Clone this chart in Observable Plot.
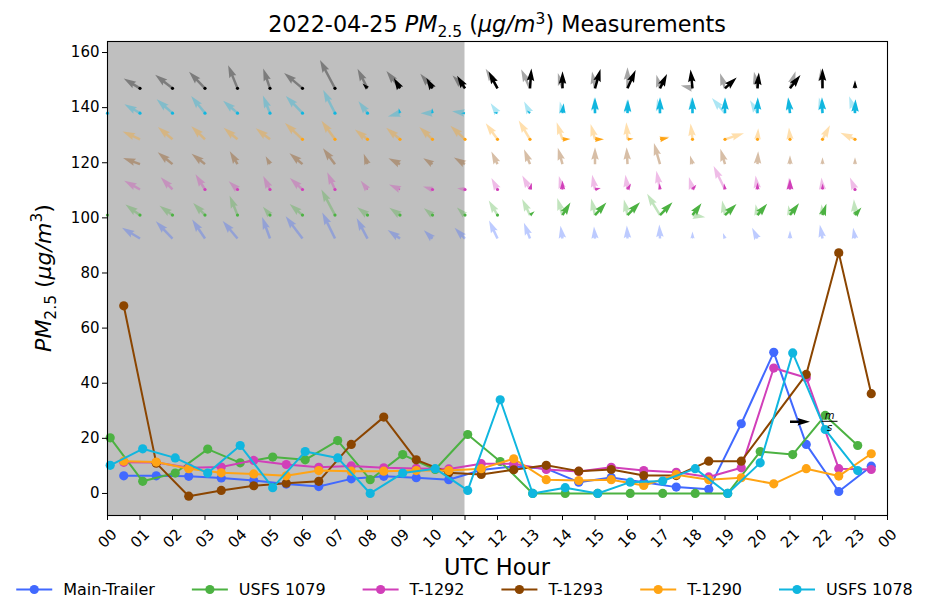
<!DOCTYPE html>
<html>
<head>
<meta charset="utf-8">
<script src="https://cdn.jsdelivr.net/npm/d3@7"></script>
<script src="https://cdn.jsdelivr.net/npm/@observablehq/plot@0.6"></script>
<style>
  body { margin: 0; background: #fff; }
  #chart svg { display: block; }
</style>
</head>
<body>
<div id="chart"></div>
<script>
// ---------------- data ----------------
const stations = ["Main-Trailer", "USFS 1079", "T-1292", "T-1293", "T-1290", "USFS 1078"];
const stationColors = ["#4169ff", "#4cb242", "#d13fb9", "#8b4500", "#ffa414", "#10b6df"];
const stationMinute = [30, 5, 30, 30, 30, 5];   // minute of the hour each station reports at
const hours = [0,1,2,3,4,5,6,7,8,9,10,11,12,13,14,15,16,17,18,19,20,21,22,23];

// PM2.5 (ug/m3), hourly
const mainTrailer = [6.4,6.4,6.2,5.6,4.7,3.4,2.5,5.3,6.2,5.7,5.0,8.5,9.8,9.0,4.1,5.8,4.1,2.3,1.5,25.3,51.2,17.8,0.7,9.9];
const usfs1079    = [20.2,4.4,7.4,16.1,11.1,13.2,12.2,19.2,5.0,14.1,8.7,21.4,11.6,0,0,0,0,0,0,0,15.2,14.1,28.3,17.4];
const t1292       = [11.3,11.2,9.3,9.6,12.0,10.5,9.5,10.0,9.3,9.1,8.9,10.8,10.8,8.7,8.0,9.5,8.3,7.7,6.0,9.3,45.5,42.0,9.0,8.7];
const t1293       = [68.1,11.0,-1.0,1.1,2.8,3.7,4.4,17.8,27.7,12.2,7.5,6.9,8.6,10.2,8.1,8.7,6.5,6.5,11.7,11.7,null,43.2,87.3,36.2];
const t1290       = [11.7,11.4,9.0,7.5,7.1,6.4,8.3,8.1,8.1,8.3,8.3,9.0,12.6,5.0,4.7,5.0,2.9,6.8,5.0,5.7,3.5,9.0,6.3,14.4];
const usfs1078    = [10.2,16.2,12.9,7.4,17.4,2.1,15.2,12.9,0,7.4,9.0,1.1,34.0,0,2.1,0,4.1,4.5,9.0,0,11.1,51.0,23.2,8.3];
const seriesValues = [mainTrailer, usfs1079, t1292, t1293, t1290, usfs1078];

// shaded (night) period, UTC hours
const shadeStart = 0;
const shadeEnd = 11;

// wind arrows: direction the arrow points (deg clockwise from north) and speed (m/s)
const arrowRows = ["Met", "USFS 1078", "T-1290", "T-1293", "T-1292", "USFS 1079", "Main-Trailer"];
const arrowRowLevels = [147, 138, 128.5, 119.5, 110.3, 101, 92.5];

const metLightDir = [null,-59,-52,-44,-22,-19,-50,-28,-27,-38,-40,-44,-31,-25,-17,-10,0,-15,-76,-18,-12,18,-5,0];
const metLightSpd = [null,1.9,2.2,2.3,2.5,2.1,2.4,3.2,2.2,2.2,1.9,1.8,2.3,2.1,1.6,1.7,2.1,1.4,1.2,1.6,1.7,1.8,2.0,0.6];
const metDarkDir  = [null,0,0,0,0,0,0,0,-45,-31,-31,-32,-28,4,0,16,24,26,-6,47,5,38,0,0];
const metDarkSpd  = [null,0,0,0,0,0,0,0,0.7,1.2,1.2,1.5,1.9,2.0,1.7,2.0,2.0,1.6,1.9,1.6,1.6,1.7,2.0,0.8];

const usfs1078LightDir = [null,-60,-49,-39,-49,-22,-44,-27,-37,-105,-90,-82,-35,-27,-13,-4,-4,-11,-5,-41,-30,-5,-13,-19];
const usfs1078LightSpd = [null,1.8,2.1,2.2,1.9,1.9,2.4,2.6,1.5,1.25,1.2,1.3,1.2,1.3,1.2,1.5,1.3,1.5,1.6,2.0,1.5,1.5,1.6,1.8];
const usfs1078DarkDir  = [0,0,0,0,0,0,0,0,0,-15,-5,-90,-82,-50,7,0,2,0,0,0,1,-7,-2,2];
const usfs1078DarkSpd  = [0,0,0,0,0,0,0,0,0,0.5,0.5,0.4,0.4,0.4,1.0,1.6,1.4,1.6,1.6,1.6,1.6,1.6,1.6,1.4];

const t1290LightDir = [null,-66,-50,-46,-50,-52,-47,-36,-52,-50,-47,-47,-36,-31,-19,-16,-4,75,-7,72,4,-5,28,-66];
const t1290LightSpd = [null,1.9,1.9,1.9,1.8,1.8,2.4,2.3,1.6,1.8,1.8,2.0,2.0,2.2,1.8,1.6,1.7,1.0,1.6,2.0,1.1,1.2,1.6,1.6];
const t1290DarkDir  = [null,null,null,null,null,null,0,0,0,0,0,0,0,0,88,90,85,80,0,0,0,0,0,0];
const t1290DarkSpd  = [null,null,null,null,null,null,0,0,0,0,0,0,0,0,0.8,0.9,0.6,0.9,0,0,0,0,0,0];

const t1293LightDir = [null,-70,-51,-52,-31,-29,-50,-37,-20,-63,-57,-59,-26,-22,-16,0,-3,-16,-16,-17,3,0,0,0];
const t1293LightSpd = [null,1.8,1.9,1.7,1.5,0.9,1.7,2.0,1.1,1.3,1.1,1.3,1.4,1.6,1.7,1.7,1.7,2.2,0.9,1.6,1.3,0.9,0.7,0.7];
const t1293DarkDir  = [];
const t1293DarkSpd  = [];

const t1292LightDir = [null,-61,-44,-32,-47,-27,-48,-24,-38,-66,-72,-81,-28,-29,-15,-11,-8,-11,-16,-26,-8,-5,-5,-23];
const t1292LightSpd = [null,1.8,1.7,1.8,1.2,1.5,1.7,1.9,1.1,1.2,1.0,0.8,1.3,1.6,1.4,1.5,1.5,1.9,1.3,2.6,1.4,1.2,1.2,1.3];
const t1292DarkDir  = [null,null,null,0,0,0,0,0,-30,-60,0,0,0,15,0,75,30,-5,39,-9,0,0,2,0];
const t1292DarkSpd  = [null,null,null,0,0,0,0,0,0.15,0.15,0,0,0,0.7,0.9,0.6,0.7,0.6,0.6,0.6,0.7,1.1,0.6,0];

const usfs1079LightDir = [null,-54,-54,-44,-22,-40,-49,-28,-53,-55,-51,-47,-31,-26,-17,-13,-13,-31,100,-11,-10,-10,-5,-4];
const usfs1079LightSpd = [null,1.8,1.6,1.7,2.1,1.1,1.7,2.9,1.3,1.3,1.1,1.1,1.7,1.8,1.8,1.7,1.6,2.5,1.3,1.5,1.1,1.0,1.1,1.6];
const usfs1079DarkDir  = [0,0,0,0,0,0,0,0,0,0,0,0,0,51,32,42,44,44,37,46,40,37,19,40];
const usfs1079DarkSpd  = [0,0,0,0,0,0,0,0,0,0,0,0,0,0.6,1.5,1.7,1.8,1.8,1.5,1.6,1.5,1.5,1.2,1.0];

const mainLightDir = [null,-59,-44,-34,-40,-20,-37,-26,-28,-55,-46,-44,-25,-21,-9,-5,-3,-3,0,-20,-27,0,-11,-10];
const mainLightSpd = [null,2.1,2.4,2.3,2.3,2.3,2.8,2.9,2.3,1.5,1.2,1.5,2.0,1.7,1.3,1.2,1.3,1.4,0.7,0.6,1.2,0.8,1.4,1.1];
const mainDarkDir  = [];
const mainDarkSpd  = [];

const quiverKeySpeed = 2; // m/s

// axes
const yTicks = [0,20,40,60,80,100,120,140,160];
const xTickHours = [0,1,2,3,4,5,6,7,8,9,10,11,12,13,14,15,16,17,18,19,20,21,22,23,24];
const xTickLabels = ["00","01","02","03","04","05","06","07","08","09","10","11","12","13","14","15","16","17","18","19","20","21","22","23","00"];

// ---------------- build records ----------------
const lightDirs = [metLightDir, usfs1078LightDir, t1290LightDir, t1293LightDir, t1292LightDir, usfs1079LightDir, mainLightDir];
const lightSpds = [metLightSpd, usfs1078LightSpd, t1290LightSpd, t1293LightSpd, t1292LightSpd, usfs1079LightSpd, mainLightSpd];
const darkDirs  = [metDarkDir, usfs1078DarkDir, t1290DarkDir, t1293DarkDir, t1292DarkDir, usfs1079DarkDir, mainDarkDir];
const darkSpds  = [metDarkSpd, usfs1078DarkSpd, t1290DarkSpd, t1293DarkSpd, t1292DarkSpd, usfs1079DarkSpd, mainDarkSpd];

function arrowRecords(dirs, spds) {
  const out = [];
  arrowRows.forEach((row, r) => {
    hours.forEach((h, i) => {
      const d = dirs[r][i], s = spds[r][i];
      if (d != null && s != null) out.push({hour: h, level: arrowRowLevels[r], dir: d, spd: s, row});
    });
  });
  return out;
}
const lightArrows = arrowRecords(lightDirs, lightSpds);
const darkArrows = arrowRecords(darkDirs, darkSpds);

const seriesRecords = stations.map((name, s) =>
  hours.map((h, i) => ({station: name, time: h + stationMinute[s] / 60, pm: seriesValues[s][i]}))
       .filter(d => d.pm != null));

// matplotlib-like quiver arrow (filled), tail at origin pointing up
const quiverShape = {
  draw(ctx, l) {
    const w = 2.5;
    if (!(l >= 0.6)) { ctx.moveTo(1.6, 0); ctx.arc(0, 0, 1.6, 0, 2 * Math.PI); return; }
    const hl0 = 5 * w;
    const k = l < hl0 ? l / hl0 : 1;
    const sw = w * k, hw = 3 * w * k, HL = 5 * w * k, HAL = 4.5 * w * k;
    ctx.moveTo(-sw / 2, 0);
    ctx.lineTo(-sw / 2, -(l - HAL));
    ctx.lineTo(-hw / 2, -(l - HL));
    ctx.lineTo(0, -l);
    ctx.lineTo(hw / 2, -(l - HL));
    ctx.lineTo(sw / 2, -(l - HAL));
    ctx.lineTo(sw / 2, 0);
    ctx.closePath();
  }
};

// ---------------- marks ----------------
const marks = [
  Plot.rect([{start: shadeStart, end: shadeEnd}], {x1: "start", x2: "end", fill: "#bfbfbf"}),
  Plot.vector(lightArrows, {x: "hour", y: "level", rotate: "dir", length: "spd", anchor: "start",
    shape: quiverShape, fill: "row", fillOpacity: 0.35, stroke: "none"}),
  Plot.vector(darkArrows, {x: "hour", y: "level", rotate: "dir", length: "spd", anchor: "start",
    shape: quiverShape, fill: "row", stroke: "none"})
];
stations.forEach((name, s) => {
  marks.push(Plot.line(seriesRecords[s], {x: "time", y: "pm", stroke: stationColors[s], strokeWidth: 2}));
  marks.push(Plot.dot(seriesRecords[s], {x: "time", y: "pm", fill: stationColors[s], r: 4.6}));
});
const keyAt = [{hour: 21.0, value: 26, spd: quiverKeySpeed}];
marks.push(Plot.vector(keyAt, {x: "hour", y: "value", rotate: 90, length: "spd", anchor: "start",
  shape: quiverShape, fill: "#000", stroke: "none"}));
marks.push(Plot.frame({stroke: "#000", strokeWidth: 1.1}));
marks.push(Plot.axisY({ticks: yTicks, tickSize: 5, tickPadding: 3, label: null, fontSize: 15}));
marks.push(Plot.axisX({ticks: xTickHours, tickSize: 5, tickFormat: () => "", label: null}));
marks.push(Plot.text(xTickHours, {x: d => d, text: (d, i) => xTickLabels[i], frameAnchor: "bottom",
  dy: 23, rotate: -45, textAnchor: "middle", lineAnchor: "middle", fontSize: 15, fill: "#000"}));

const chart = Plot.plot({
  width: 929, height: 614,
  marginTop: 41, marginRight: 42, marginBottom: 99, marginLeft: 107,
  x: {domain: [0, 24]},
  y: {domain: [-8, 164]},
  length: {domain: [0, 1], range: [0, 10]},
  color: {domain: [...stations, "Met"], range: [...stationColors, "#000000"]},
  style: {fontFamily: "DejaVu Sans", fontSize: "15px", color: "#000", background: "#fff", overflow: "visible"},
  marks
});
document.getElementById("chart").appendChild(chart);

// ---------------- text annotations ----------------
const svg = d3.select(chart);
function richText(parent, segs, attrs) {
  const t = parent.append("text");
  for (const [k, v] of Object.entries(attrs)) t.attr(k, v);
  let shift = 0;
  for (const s of segs) {
    const ts = t.append("tspan").text(s.t);
    if (s.i) ts.attr("font-style", "italic");
    if (s.fs) ts.attr("font-size", s.fs);
    const target = s.dy || 0;
    if (target !== shift) { ts.attr("dy", target - shift); shift = target; }
  }
  return t;
}
const fam = "DejaVu Sans";
richText(svg, [
  {t: "2022-04-25 "}, {t: "PM", i: true}, {t: "2.5", dy: 4.5, fs: 15.5},
  {t: " ("}, {t: "μg/m", i: true}, {t: "3", dy: -8.5, fs: 15.5}, {t: ") Measurements"}
], {x: 497, y: 32, "text-anchor": "middle", "font-family": fam, "font-size": 22.3, fill: "#000"});

richText(svg, [
  {t: "PM", i: true}, {t: "2.5", dy: 4.5, fs: 15.5},
  {t: " ("}, {t: "μg/m", i: true}, {t: "3", dy: -9, fs: 15.5}, {t: ")"}
], {transform: "translate(51,278) rotate(-90)", "text-anchor": "middle", "font-family": fam, "font-size": 22, fill: "#000"});

svg.append("text").text("UTC Hour").attr("x", 497).attr("y", 575).attr("text-anchor", "middle")
  .attr("font-family", fam).attr("font-size", 22.5).attr("fill", "#000");

// quiver key label (m over s)
const sx = chart.scale("x"), sy = chart.scale("y");
const kx = sx.apply(keyAt[0].hour) + 40, ky = sy.apply(keyAt[0].value);
const keyG = svg.append("g").attr("font-family", fam).attr("font-style", "italic").attr("font-size", 10).attr("fill", "#000");
keyG.append("text").text("m").attr("x", kx).attr("y", ky - 2.5).attr("text-anchor", "middle");
keyG.append("line").attr("x1", kx - 8).attr("x2", kx + 8).attr("y1", ky).attr("y2", ky).attr("stroke", "#000").attr("stroke-width", 1);
keyG.append("text").text("s").attr("x", kx).attr("y", ky + 9.5).attr("text-anchor", "middle");

// legend
const leg = svg.append("g").attr("font-family", fam).attr("font-size", 16).attr("text-anchor", "start");
const items = stations.map((name, s) => {
  const g = leg.append("g");
  g.append("line").attr("x1", 0).attr("x2", 36).attr("y1", 0).attr("y2", 0).attr("stroke", stationColors[s]).attr("stroke-width", 2);
  g.append("circle").attr("cx", 18).attr("cy", 0).attr("r", 4.6).attr("fill", stationColors[s]);
  const t = g.append("text").text(name).attr("x", 47).attr("y", 5.8).attr("fill", "#000").attr("text-anchor", "start");
  return {g, w: 47 + t.node().getComputedTextLength()};
});
const gap = 37;
const total = d3.sum(items, d => d.w) + gap * (items.length - 1);
let lx = 464.5 - total / 2;
items.forEach(it => { it.g.attr("transform", `translate(${lx},589.5)`); lx += it.w + gap; });
</script>
</body>
</html>
